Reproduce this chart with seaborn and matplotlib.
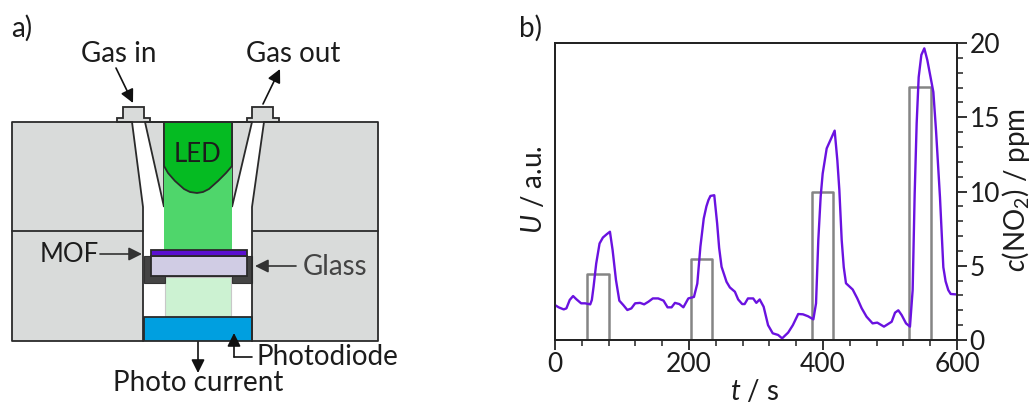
import matplotlib
matplotlib.use("Agg")
import matplotlib.pyplot as plt
from matplotlib.patches import Polygon, Rectangle, FancyArrowPatch
from matplotlib.ticker import MultipleLocator
import numpy as np
import seaborn as sns

# ---- panel b data ----
time_s = [0, 5.5, 13, 17, 22, 27, 32, 39, 45, 52.6, 55, 57.6, 61.5, 66.5, 71.5, 77.4, 82, 86, 91, 96, 102,
          108, 114, 119.6, 127, 133, 139.5, 146, 154, 162, 168, 174, 179, 185.6, 191.6, 199, 207.4, 212.4,
          217, 222, 226, 229, 232, 237.7, 242, 245, 248.6, 256, 261, 268.5, 273.4, 279.4, 283, 288, 295.8, 300.5,
          305.5, 311.4, 318, 325, 333, 339, 348, 355, 363, 370, 377.6, 385.6, 389.6, 393, 396.5, 399.5, 405.5,
          417.4, 421.4, 424.4, 427.9, 431, 434.3, 444.3, 451.2, 457.7, 465, 474, 481, 491, 502.5, 507.5,
          512.4, 517.4, 523.9, 529.8, 533.8, 536.8, 539.8, 542.8, 546.8, 551.2, 555.7, 564.7, 568.7, 574.6,
          579.6, 583, 587, 590.6, 598.5]
signal = [2.35, 2.2, 2.06, 2.13, 2.7, 2.96, 2.74, 2.47, 2.47, 2.4, 2.7, 3.6, 5.15, 6.5, 6.9, 7.13, 7.29, 6.05,
          4.04, 2.65, 2.35, 2.02, 2.13, 2.47, 2.5, 2.4, 2.58, 2.8, 2.8, 2.65, 2.2, 2.2, 2.5, 2.42, 2.2, 2.8,
          2.9, 3.8, 6.28, 8.18, 9.0, 9.42, 9.7, 9.75, 7.85, 6.2, 4.93, 3.92, 3.54, 3.25, 2.73, 2.42, 2.42, 2.8, 2.8,
          2.5, 2.73, 2.24, 1.0, 0.45, 0.34, 0.11, 0.5, 1.0, 1.75, 1.73, 1.6, 1.39, 2.47, 6.73, 9.65, 11.2, 12.9,
          14.1, 12.1, 10.1, 6.73, 4.9, 3.82, 3.4, 2.8, 2.14, 1.57, 1.12, 1.17, 0.9, 1.23, 1.84,
          2.0, 1.68, 1.12, 0.9, 3.36, 9.8, 14.6, 17.7, 19.2, 19.64, 18.85, 16.7, 14.1, 9.6,
          4.9, 3.95, 3.36, 3.1, 3.07]
pulse_start = [48, 203, 384, 529]
pulse_end = [80, 235, 415.6, 561]
pulse_level = [4.45, 5.45, 9.99, 17.04]
x_ticks = [0, 200, 400, 600]
y_ticks = [0, 5, 10, 15, 20]

# ---- panel a geometry (pixel space of the figure) ----
block_color = "#d9dbda"
edge_dark = "#2a2a2a"
left_block = [(12, 122), (132, 122), (143, 207), (143, 341), (12, 341)]
right_block = [(264, 122), (378, 122), (378, 341), (252, 341), (252, 207)]
left_wedge = [(145, 122), (164, 122), (164, 207)]
right_wedge = [(232, 122), (252, 122), (232, 207)]
led_top = [(164, 122), (232, 122), (232, 166), (226, 173), (218, 181), (209, 189), (203, 192), (197, 193),
           (190, 192), (184, 189), (175, 181), (168, 173), (164, 166)]
beam_upper = (164, 160, 232, 250)
beam_lower = (165, 277, 231, 316)
photodiode = (144, 317, 252, 341)
holder = [(144, 256), (252, 256), (252, 283), (232, 283), (232, 276), (165, 276), (165, 283), (144, 283)]
glass = (151, 256, 247, 276)
mof = (151, 250, 247, 256)
fit_left = [(117, 122), (117, 118), (123, 118), (123, 107), (144, 107), (144, 118), (150, 118), (150, 122)]
fit_right = [(247, 122), (247, 118), (252, 118), (252, 107), (273, 107), (273, 118), (279, 118), (279, 122)]

sns.set_theme(style="white")
plt.rcParams["font.family"] = ["Lato", "DejaVu Sans"]
plt.rcParams["mathtext.fontset"] = "custom"
plt.rcParams["mathtext.rm"] = "Lato"
plt.rcParams["mathtext.it"] = "Lato:italic"
plt.rcParams["mathtext.default"] = "regular"

W, H = 1030, 405
fig = plt.figure(figsize=(W / 100, H / 100), dpi=100, facecolor="white")

ax_a = fig.add_axes([0, 0, 1, 1])
ax_a.set_xlim(0, W)
ax_a.set_ylim(H, 0)
ax_a.axis("off")


def box(b, **kw):
    ax_a.add_patch(Rectangle((b[0], b[1]), b[2] - b[0], b[3] - b[1], **kw))


def poly(p, **kw):
    ax_a.add_patch(Polygon(p, closed=True, **kw))


lw = 1.3
poly(left_block, fc=block_color, ec="none")
poly(right_block, fc=block_color, ec="none")
poly(left_wedge, fc=block_color, ec=edge_dark, lw=lw)
poly(right_wedge, fc=block_color, ec=edge_dark, lw=lw)
box(beam_upper, fc="#4fd66b", ec="none")
box(beam_lower, fc="#ccf2d2", ec="#c8c8c8", lw=0.8)
poly(led_top, fc="#05bb22", ec=edge_dark, lw=lw)
box(photodiode, fc="#009fe0", ec=edge_dark, lw=lw)
# outlines of the housing
ax_a.plot([132, 12, 12, 143], [122, 122, 341, 341], color=edge_dark, lw=lw)
ax_a.plot([264, 378, 378, 252], [122, 122, 341, 341], color=edge_dark, lw=lw)
ax_a.plot([145, 252], [122, 122], color=edge_dark, lw=lw)
ax_a.plot([132, 143, 143], [122, 207, 341], color=edge_dark, lw=lw)
ax_a.plot([264, 252, 252], [122, 207, 341], color=edge_dark, lw=lw)
ax_a.plot([12, 143], [231, 231], color=edge_dark, lw=lw)
ax_a.plot([253, 378], [231, 231], color=edge_dark, lw=lw)
poly(holder, fc="#444444", ec="#333333", lw=0.8)
box(glass, fc="#d0cce4", ec=edge_dark, lw=lw)
box(mof, fc="#5a0fd0", ec=edge_dark, lw=lw)
poly(fit_left, fc=block_color, ec=edge_dark, lw=lw)
poly(fit_right, fc=block_color, ec=edge_dark, lw=lw)


def arrow(a, b, color="#111111"):
    ax_a.add_patch(FancyArrowPatch(a, b, arrowstyle="-|>", mutation_scale=20, color=color, lw=1.2,
                                   shrinkA=0, shrinkB=0, zorder=5))


arrow((116, 68), (133, 103))
arrow((263, 104), (280, 69))
arrow((100, 254), (142, 254), "#333333")
arrow((296, 266), (255, 266), "#333333")
arrow((198, 342), (198, 373))
ax_a.plot([252, 234], [357, 357], color="#111111", lw=1.2)
arrow((234, 357), (234, 333))

fs = 20
fs_tick = 19
txt = dict(color="#1c1c1c", fontsize=fs, va="center")
ax_a.text(11, 28, "a)", ha="left", **txt)
ax_a.text(519, 28, "b)", ha="left", **txt)
ax_a.text(119, 54, "Gas in", ha="center", **txt)
ax_a.text(293, 54, "Gas out", ha="center", **txt)
ax_a.text(198, 154, "LED", ha="center", color="#1c1c1c", fontsize=18.5, va="center")
ax_a.text(69, 254, "MOF", ha="center", color="#1c1c1c", fontsize=18.5, va="center")
ax_a.text(335, 267, "Glass", ha="center", color="#444444", fontsize=fs, va="center")
ax_a.text(327, 357, "Photodiode", ha="center", **txt)
ax_a.text(198, 383, "Photo current", ha="center", **txt)

# ---- panel b ----
L, R, T, B = 555, 957, 43, 340
ax_u = fig.add_axes([L / W, (H - B) / H, (R - L) / W, (B - T) / H])
ax_u.patch.set_alpha(0)
ax_c = ax_u.twinx()
ax_c.patch.set_alpha(0)

for s, e, v in zip(pulse_start, pulse_end, pulse_level):
    sns.lineplot(x=[s, s, e, e], y=[0, v, v, 0], sort=False, estimator=None, errorbar=None,
                 color="#858585", lw=1.8, ax=ax_c)
sns.lineplot(x=time_s, y=signal, sort=False, estimator=None, errorbar=None,
             color="#6a12e0", lw=1.7, ax=ax_u)

ax_u.set_zorder(ax_c.get_zorder() + 1)
ax_u.set_xlim(0, 600)
ax_u.set_ylim(0, 20)
ax_c.set_ylim(0, 20)
ax_u.set_xticks(x_ticks)
ax_u.xaxis.set_minor_locator(MultipleLocator(40))
ax_u.set_yticks([])
ax_u.set_ylabel("")
ax_c.set_ylabel("")
ax_u.set_xlabel("")
ax_c.set_yticks(y_ticks)
ax_c.yaxis.set_minor_locator(MultipleLocator(1))
ax_u.tick_params(axis="x", which="major", bottom=True, length=7, width=1.3, color="#222222",
                 labelsize=fs_tick, labelcolor="#1c1c1c", pad=2)
ax_u.tick_params(axis="x", which="minor", bottom=True, length=4, width=1.1, color="#222222")
ax_c.tick_params(axis="y", which="major", right=True, left=False, length=7, width=1.3, color="#222222",
                 labelsize=fs_tick, labelcolor="#1c1c1c", pad=2)
ax_c.tick_params(axis="y", which="minor", right=True, left=False, length=4, width=1.1, color="#222222")
for ax in (ax_u, ax_c):
    for sp in ax.spines.values():
        sp.set_visible(True)
        sp.set_color("#222222")
        sp.set_linewidth(1.3)

ax_a.text(533, 190, "$\\mathit{U}$ / a.u.", rotation=90, ha="center", **txt)
ax_a.text(755, 392, "$\\mathit{t}$ / s", ha="center", **txt)
ax_a.text(1016, 190, "$\\mathit{c}$(NO$_2$) / ppm", rotation=90, ha="center", **txt)

fig.savefig("out.png", dpi=100)
